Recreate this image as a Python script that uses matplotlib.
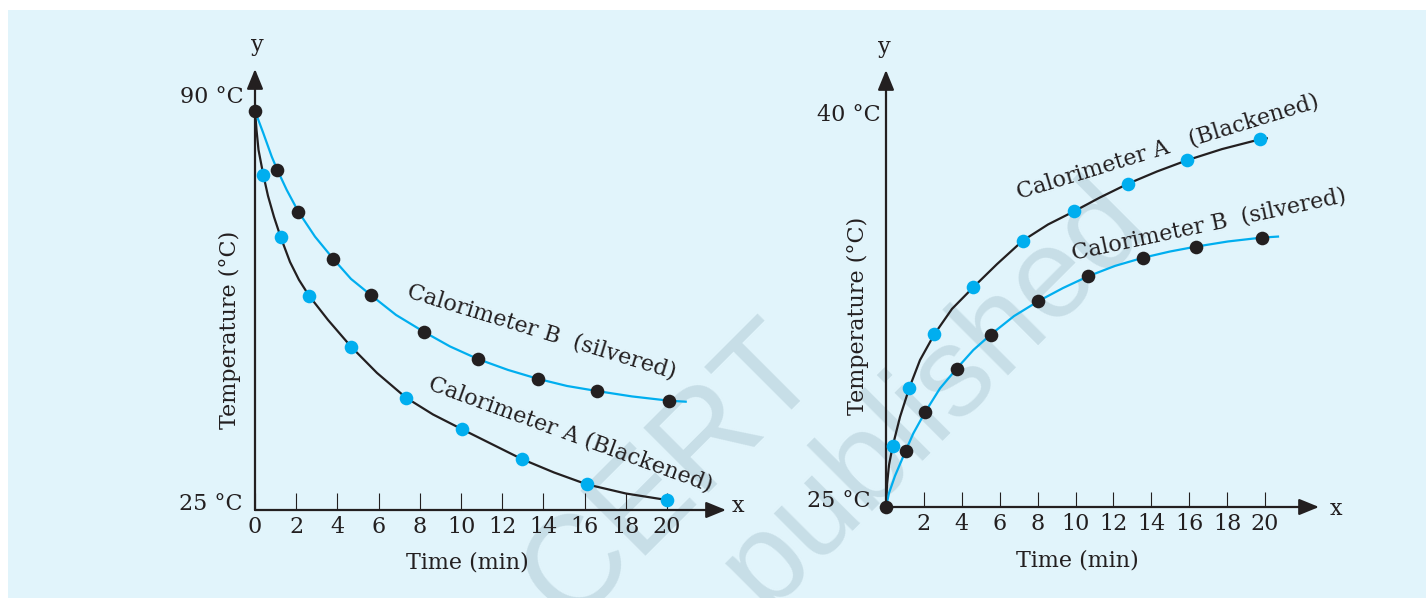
import matplotlib
matplotlib.use('Agg')
import matplotlib.pyplot as plt
from matplotlib.patches import Rectangle

# 左图：冷却曲线 (90 °C -> 25 °C)
cool_a_line_t = [0, 0.073, 0.170, 0.403, 0.631, 0.922, 1.248, 1.699, 2.136, 2.621, 3.544, 4.660, 5.922,
                 7.330, 8.641, 10.049, 12.947, 14.515, 16.102, 18.01, 19.985]
cool_a_line_T = [88.77, 85.68, 82.49, 78.50, 75.14, 71.79, 68.55, 64.60, 61.73, 59.22, 55.34, 51.08, 46.88,
                 42.93, 40.25, 37.89, 33.14, 30.99, 29.10, 27.63, 26.60]
cool_a_dot_t = [0.403, 1.248, 2.621, 4.660, 7.330, 10.049, 12.947, 16.102, 19.985]
cool_a_dot_T = [78.50, 68.55, 59.22, 51.08, 42.93, 37.89, 33.14, 29.10, 26.60]

cool_b_line_t = [0, 0.170, 0.403, 0.811, 1.083, 1.539, 2.102, 2.913, 3.801, 4.660, 5.617, 6.845, 8.204,
                 9.466, 10.811, 12.282, 13.752, 15.146, 16.587, 18.301, 20.097, 20.908]
cool_b_line_T = [88.77, 87.20, 85.16, 81.42, 79.30, 76.10, 72.64, 68.64, 65.08, 61.89, 59.33, 56.14, 53.43,
                 51.11, 49.11, 47.36, 45.92, 44.80, 44.00, 43.13, 42.45, 42.29]
cool_b_dot_t = [0, 1.083, 2.102, 3.801, 5.617, 8.204, 10.811, 13.752, 16.587, 20.097]
cool_b_dot_T = [88.77, 79.30, 72.64, 65.08, 59.33, 53.43, 49.11, 45.92, 44.00, 42.45]

# 右图：加热曲线 (25 °C -> 40 °C)
heat_a_line_t = [0, 0.053, 0.158, 0.354, 0.739, 1.230, 1.794, 2.549, 3.483, 4.607, 5.858, 7.214, 8.549,
                 9.921, 11.293, 12.786, 14.301, 15.900, 17.731, 19.736, 20.090]
heat_a_line_T = [25.0, 25.86, 26.63, 27.37, 28.50, 29.63, 30.71, 31.71, 32.70, 33.54, 34.44, 35.35, 35.98,
                 36.49, 37.03, 37.57, 38.04, 38.48, 38.91, 39.29, 39.33]
heat_a_dot_t = [0.354, 1.230, 2.549, 4.607, 7.214, 9.921, 12.786, 15.900, 19.736]
heat_a_dot_T = [27.37, 29.63, 31.71, 33.54, 35.35, 36.49, 37.57, 38.48, 39.29]

heat_b_line_t = [0, 0.158, 0.475, 1.040, 1.441, 2.058, 2.850, 3.731, 4.607, 5.525, 6.755, 8.037, 9.340,
                 10.675, 12.084, 13.578, 14.987, 16.359, 18.047, 19.826, 20.686]
heat_b_line_T = [25.0, 25.54, 26.21, 27.19, 27.86, 28.68, 29.61, 30.38, 31.10, 31.70, 32.42, 33.00, 33.51,
                 33.97, 34.37, 34.69, 34.93, 35.12, 35.32, 35.47, 35.51]
heat_b_dot_t = [0, 1.040, 2.058, 3.731, 5.525, 8.037, 10.675, 13.578, 16.359, 19.826]
heat_b_dot_T = [25.0, 27.19, 28.68, 30.38, 31.70, 33.00, 33.97, 34.69, 35.12, 35.47]

left_ticks = [0, 2, 4, 6, 8, 10, 12, 14, 16, 18, 20]
left_tick_labels = ['0', '2', '4', '6', '8', '10', '12', '14', '16', '18', '20']
right_ticks = [2, 4, 6, 8, 10, 12, 14, 16, 18, 20]
right_tick_labels = ['2', '4', '6', '8', '10', '12', '14', '16', '18', '20']

BLACK = '#231F20'
BLUE = '#00AEEF'
BG = '#E1F4FB'
MARK = '#C7DEE7'

plt.rcParams['font.family'] = ['DejaVu Serif']
plt.rcParams['font.size'] = 16

W, H = 1426, 598
fig = plt.figure(figsize=(W / 100, H / 100), dpi=100)
fig.patch.set_facecolor('white')
fig.patches.append(Rectangle((8 / W, 0), 1 - 8 / W, (H - 10) / H, transform=fig.transFigure,
                             facecolor=BG, edgecolor='none', zorder=-2))

# 水印
fig.text(672 / W, 1 - 474 / H, 'CERT', rotation=45, rotation_mode='anchor', ha='center', va='center',
         fontsize=96, color=MARK, family='Liberation Sans', zorder=-1)
fig.text(935 / W, 1 - 394 / H, 'published', rotation=45, rotation_mode='anchor', ha='center', va='center',
         fontsize=92, color=MARK, family='Liberation Sans', zorder=-1)


def setup(ax, xmax, ymax, ticks, labels, ticklen):
    ax.set_xlim(0, xmax)
    ax.set_ylim(25, ymax)
    ax.patch.set_visible(False)
    for s in ax.spines.values():
        s.set_visible(False)
    ax.set_xticks(ticks, labels)
    ax.tick_params(axis='x', direction='in', length=ticklen, width=0.8, color=BLACK,
                   labelcolor=BLACK, labelsize=16, pad=4)
    ax.tick_params(axis='y', left=False, labelleft=False)
    arrow = dict(arrowstyle='-|>,head_length=1.1,head_width=0.45', color=BLACK, lw=1.6,
                 shrinkA=0, shrinkB=0, mutation_scale=11)
    ax.annotate('', xy=(xmax, 25), xytext=(0, 25), arrowprops=arrow, annotation_clip=False)
    ax.annotate('', xy=(0, ymax), xytext=(0, 25), arrowprops=arrow, annotation_clip=False)


# 左图
ax1 = fig.add_axes([255 / W, 88 / H, 471 / W, 441 / H])
setup(ax1, 471 / 20.6, 95.4, left_ticks, left_tick_labels, 12.5)
ax1.plot(cool_a_line_t, cool_a_line_T, color=BLACK, lw=1.6, zorder=2, clip_on=False)
ax1.plot(cool_b_line_t, cool_b_line_T, color=BLUE, lw=1.6, zorder=2, clip_on=False)
ax1.plot(cool_a_dot_t, cool_a_dot_T, 'o', color=BLUE, ms=9.8, mew=0, zorder=3, clip_on=False)
ax1.plot(cool_b_dot_t, cool_b_dot_T, 'o', color=BLACK, ms=9.8, mew=0, zorder=3, clip_on=False)
ax1.annotate('90 °C', xy=(0, 90), xytext=(-8, 0), textcoords='offset points', ha='right', va='baseline', color=BLACK)
ax1.annotate('25 °C', xy=(0, 25), xytext=(-9, 0), textcoords='offset points', ha='right', va='baseline', color=BLACK)
ax1.text(7.33, 59.0, 'Calorimeter B  (silvered)', rotation=-17, rotation_mode='anchor',
         ha='left', va='baseline', color=BLACK)
ax1.text(8.35, 44.3, 'Calorimeter A (Blackened)', rotation=-20, rotation_mode='anchor',
         ha='left', va='baseline', color=BLACK)
fig.text(467 / W, 1 - 562 / H, 'Time (min)', ha='center', va='center', color=BLACK)
fig.text(230 / W, 1 - 330 / H, 'Temperature (°C)', rotation=90, ha='center', va='center', color=BLACK)
fig.text(257 / W, 1 - 45 / H, 'y', ha='center', va='center', color=BLACK)
fig.text(738 / W, 1 - 506 / H, 'x', ha='center', va='center', color=BLACK)

# 右图
ax2 = fig.add_axes([886 / W, 91 / H, 433 / W, 437 / H])
setup(ax2, 433 / 18.95, 25 + 437 / 25.73, right_ticks, right_tick_labels, 11)
ax2.plot(heat_a_line_t, heat_a_line_T, color=BLACK, lw=1.6, zorder=2, clip_on=False)
ax2.plot(heat_b_line_t, heat_b_line_T, color=BLUE, lw=1.6, zorder=2, clip_on=False)
ax2.plot(heat_a_dot_t, heat_a_dot_T, 'o', color=BLUE, ms=9.8, mew=0, zorder=3, clip_on=False)
ax2.plot(heat_b_dot_t, heat_b_dot_T, 'o', color=BLACK, ms=9.8, mew=0, zorder=3, clip_on=False)
ax2.annotate('40 °C', xy=(0, 40), xytext=(-4, 0), textcoords='offset points', ha='right', va='baseline', color=BLACK)
ax2.annotate('25 °C', xy=(0, 25), xytext=(-11, 0), textcoords='offset points', ha='right', va='baseline', color=BLACK)
ax2.text(7.0, 37.0, 'Calorimeter A   (Blackened)', rotation=17, rotation_mode='anchor',
         ha='left', va='baseline', color=BLACK)
ax2.text(9.9, 34.6, 'Calorimeter B  (silvered)', rotation=12, rotation_mode='anchor',
         ha='left', va='baseline', color=BLACK)
fig.text(1077 / W, 1 - 560 / H, 'Time (min)', ha='center', va='center', color=BLACK)
fig.text(858 / W, 1 - 316 / H, 'Temperature (°C)', rotation=90, ha='center', va='center', color=BLACK)
fig.text(884 / W, 1 - 47 / H, 'y', ha='center', va='center', color=BLACK)
fig.text(1336 / W, 1 - 509 / H, 'x', ha='center', va='center', color=BLACK)

fig.savefig('out.png', dpi=100, facecolor=fig.get_facecolor())
